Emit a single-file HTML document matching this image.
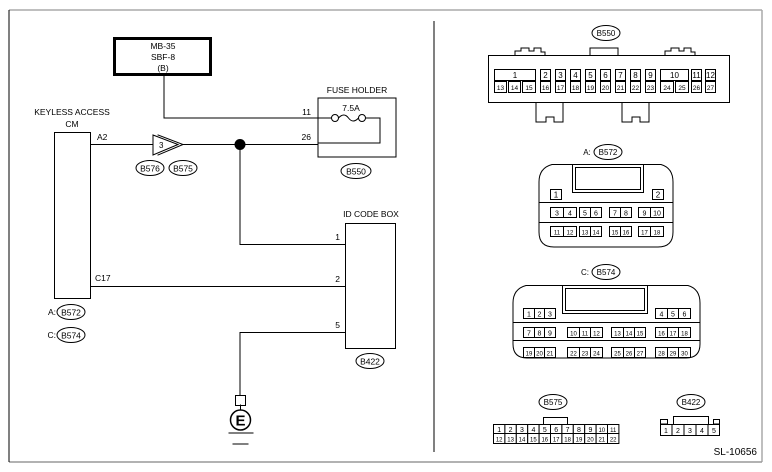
<!DOCTYPE html>
<html><head><meta charset="utf-8"><style>
html,body{margin:0;padding:0;background:#fff;}
svg{display:block;}
text{font-family:"Liberation Sans",sans-serif;fill:#000;}
</style></head><body>
<svg width="772" height="472" viewBox="0 0 772 472" xmlns="http://www.w3.org/2000/svg">
<rect x="0" y="0" width="772" height="472" fill="#fff"/>
<!-- frame -->
<line x1="9" y1="10" x2="762" y2="10" stroke="#aaa" stroke-width="1.5"/>
<line x1="762" y1="10" x2="762" y2="462" stroke="#aaa" stroke-width="1.5"/>
<line x1="9" y1="462" x2="762" y2="462" stroke="#999" stroke-width="1.5"/>
<line x1="9" y1="10" x2="9" y2="462" stroke="#000" stroke-width="1"/>
<line x1="434" y1="21" x2="434" y2="452" stroke="#000" stroke-width="1"/>

<g font-size="8.5" stroke-linecap="square">
<!-- MB-35 box -->
<rect x="114.5" y="38.5" width="96" height="36" fill="none" stroke="#000" stroke-width="3"/>
<text x="163" y="49" text-anchor="middle">MB-35</text>
<text x="163" y="60" text-anchor="middle">SBF-8</text>
<text x="163" y="71" text-anchor="middle">(B)</text>
<polyline points="164,76 164,118 331,118" fill="none" stroke="#000"/>
<!-- Fuse holder -->
<text x="357" y="93" text-anchor="middle">FUSE HOLDER</text>
<rect x="318" y="98" width="78" height="59" fill="none" stroke="#000"/>
<text x="351" y="111" text-anchor="middle">7.5A</text>
<text x="311" y="115" text-anchor="end">11</text>
<text x="311" y="140" text-anchor="end">26</text>
<circle cx="335" cy="118" r="3.5" fill="#fff" stroke="#000"/>
<circle cx="362" cy="118" r="3.5" fill="#fff" stroke="#000"/>
<path d="M338.5,118 Q344,112 348.5,118 T358.5,118" fill="none" stroke="#000"/>
<polyline points="365.5,118 380,118 380,143 318,143" fill="none" stroke="#000"/>
<ellipse cx="356" cy="171" rx="15" ry="7.5" fill="#fff" stroke="#000"/>
<text x="356" y="174.5" text-anchor="middle">B550</text>

<!-- Keyless access CM -->
<text x="72" y="115" text-anchor="middle">KEYLESS ACCESS</text>
<text x="72" y="127" text-anchor="middle">CM</text>
<rect x="54.5" y="132.5" width="36" height="166" fill="none" stroke="#000"/>
<text x="97" y="140">A2</text>
<text x="95" y="281">C17</text>
<ellipse cx="71" cy="312" rx="14" ry="7.5" fill="#fff" stroke="#000"/>
<text x="71" y="315.5" text-anchor="middle">B572</text>
<text x="56" y="315" text-anchor="end">A:</text>
<ellipse cx="71" cy="335" rx="14" ry="7.5" fill="#fff" stroke="#000"/>
<text x="71" y="338.5" text-anchor="middle">B574</text>
<text x="56" y="338" text-anchor="end">C:</text>

<!-- A2 wire with connector -->
<line x1="91" y1="144.5" x2="153" y2="144.5" stroke="#000"/>
<polygon points="153,135 178,144.5 153,155" fill="#fff" stroke="#000"/>
<polyline points="158,135 183,144.5 158,155" fill="none" stroke="#000"/>
<text x="159" y="148" font-size="8">3</text>
<line x1="183" y1="144.5" x2="318" y2="144.5" stroke="#000"/>
<circle cx="240" cy="144.5" r="5.5" fill="#000"/>
<ellipse cx="150" cy="168" rx="14" ry="7.5" fill="#fff" stroke="#000"/>
<text x="150" y="171.5" text-anchor="middle">B576</text>
<ellipse cx="183" cy="168" rx="14" ry="7.5" fill="#fff" stroke="#000"/>
<text x="183" y="171.5" text-anchor="middle">B575</text>

<!-- ID code box -->
<polyline points="240,144 240,244.5 345,244.5" fill="none" stroke="#000"/>
<line x1="91" y1="286.5" x2="345" y2="286.5" stroke="#000"/>
<polyline points="345,332.5 240,332.5 240,395" fill="none" stroke="#000"/>
<text x="371" y="217" text-anchor="middle">ID CODE BOX</text>
<rect x="345.5" y="223.5" width="50" height="125" fill="none" stroke="#000"/>
<text x="340" y="240" text-anchor="end">1</text>
<text x="340" y="282" text-anchor="end">2</text>
<text x="340" y="328" text-anchor="end">5</text>
<ellipse cx="370" cy="361" rx="14" ry="7.5" fill="#fff" stroke="#000"/>
<text x="370" y="364.5" text-anchor="middle">B422</text>

<!-- ground -->
<rect x="235.5" y="395.5" width="10" height="10" fill="#fff" stroke="#000"/>
<line x1="240.5" y1="405" x2="240.5" y2="410" stroke="#000"/>
<circle cx="240.5" cy="420" r="10" fill="#fff" stroke="#000" stroke-width="1.5"/>
<text x="240.5" y="425.5" text-anchor="middle" font-size="15" font-weight="bold">E</text>
<line x1="229" y1="433" x2="253" y2="433" stroke="#000"/>
<line x1="233" y1="444" x2="248" y2="444" stroke="#000"/>
</g>

<!-- RIGHT SIDE -->
<g font-size="8" stroke="#000" fill="none">
<ellipse cx="606" cy="33" rx="14" ry="7.5" fill="#fff"/>
<path d="M515,55 v-4 h6 v-3 h8 v3 h5 v-3 h7 v4 h4 v4"/>
<path d="M590,55 v-7 h28 v7"/>
<path d="M665,55 v-4 h6 v-3 h8 v3 h5 v-3 h7 v4 h4 v4"/>
<rect x="488.5" y="55.5" width="241" height="47" fill="#fff"/>
<path d="M536,102 v20 h10 v-5 h8 v5 h9 v-20"/>
<path d="M622,102 v20 h10 v-5 h8 v5 h9 v-20"/>
<rect x="494.5" y="69.5" width="41" height="11"/>
<rect x="494.5" y="81.5" width="12" height="11"/><rect x="508.5" y="81.5" width="12" height="11"/><rect x="522.5" y="81.5" width="13" height="11"/>
<g>
<rect x="540.5" y="69.5" width="10" height="11"/><rect x="540.5" y="81.5" width="10" height="11"/>
<rect x="555.5" y="69.5" width="10" height="11"/><rect x="555.5" y="81.5" width="10" height="11"/>
<rect x="570.5" y="69.5" width="10" height="11"/><rect x="570.5" y="81.5" width="10" height="11"/>
<rect x="585.5" y="69.5" width="10" height="11"/><rect x="585.5" y="81.5" width="10" height="11"/>
<rect x="600.5" y="69.5" width="10" height="11"/><rect x="600.5" y="81.5" width="10" height="11"/>
<rect x="615.5" y="69.5" width="10" height="11"/><rect x="615.5" y="81.5" width="10" height="11"/>
<rect x="630.5" y="69.5" width="10" height="11"/><rect x="630.5" y="81.5" width="10" height="11"/>
<rect x="645.5" y="69.5" width="10" height="11"/><rect x="645.5" y="81.5" width="10" height="11"/>
<rect x="660.5" y="69.5" width="28" height="11"/><rect x="660.5" y="81.5" width="13" height="11"/><rect x="675.5" y="81.5" width="13" height="11"/>
<rect x="691.5" y="69.5" width="10" height="11"/><rect x="691.5" y="81.5" width="10" height="11"/>
<rect x="705.5" y="69.5" width="10" height="11"/><rect x="705.5" y="81.5" width="10" height="11"/>
</g>

<!-- B572 -->
<ellipse cx="608" cy="152" rx="14" ry="7.5" fill="#fff"/>
<path d="M552,164.5 H661 Q673,168 673,182 V232 Q673,247 658,247 H554 Q539,247 539,232 V182 Q539,168 552,164.5 Z"/>
<rect x="572.5" y="164.5" width="71" height="28"/>
<rect x="575.5" y="167.5" width="65" height="22"/>
<line x1="539" y1="202.5" x2="673" y2="202.5"/>
<line x1="539" y1="222.5" x2="673" y2="222.5"/>
<rect x="550.5" y="189.5" width="11" height="10"/><rect x="652.5" y="189.5" width="11" height="10"/>
<!-- B574 -->
<ellipse cx="606" cy="272" rx="14" ry="7.5" fill="#fff"/>
<path d="M526,285.5 H688 Q700,289 700,303 V344 Q700,358 686,358 H527 Q513,358 513,344 V303 Q513,289 526,285.5 Z"/>
<rect x="562.5" y="285.5" width="85" height="28"/>
<rect x="565.5" y="288.5" width="79" height="22"/>
<line x1="513" y1="322.5" x2="700" y2="322.5"/>
<line x1="513" y1="340.5" x2="700" y2="340.5"/>
</g>

<g font-size="8" text-anchor="middle">
<text x="606" y="36">B550</text>
<text x="515" y="78">1</text>
<text x="545.5" y="78">2</text><text x="560.5" y="78">3</text><text x="575.5" y="78">4</text><text x="590.5" y="78">5</text><text x="605.5" y="78">6</text><text x="620.5" y="78">7</text><text x="635.5" y="78">8</text><text x="650.5" y="78">9</text><text x="674.5" y="78">10</text><text x="696.5" y="78">11</text><text x="710.5" y="78">12</text>
<g font-size="6.5">
<text x="500.5" y="90">13</text><text x="514.5" y="90">14</text><text x="529" y="90">15</text><text x="545.5" y="90">16</text><text x="560.5" y="90">17</text><text x="575.5" y="90">18</text><text x="590.5" y="90">19</text><text x="605.5" y="90">20</text><text x="620.5" y="90">21</text><text x="635.5" y="90">22</text><text x="650.5" y="90">23</text><text x="667" y="90">24</text><text x="682" y="90">25</text><text x="696.5" y="90">26</text><text x="710.5" y="90">27</text>
</g>
<text x="587" y="155">A:</text><text x="608" y="155">B572</text>
<text x="556" y="197.5">1</text><text x="658" y="197.5">2</text>
<text x="585" y="275">C:</text><text x="606" y="275">B574</text>
<text x="553" y="405">B575</text>
<text x="691" y="405">B422</text>
</g>

<g stroke="#000" fill="#fff" font-size="7">
<rect x="550.5" y="207.5" width="13" height="10"/><rect x="563.5" y="207.5" width="13" height="10"/>
<rect x="579.5" y="207.5" width="11" height="10"/><rect x="590.5" y="207.5" width="11" height="10"/>
<rect x="609.5" y="207.5" width="11" height="10"/><rect x="620.5" y="207.5" width="11" height="10"/>
<rect x="638.5" y="207.5" width="12" height="10"/><rect x="650.5" y="207.5" width="13" height="10"/>
<rect x="550.5" y="226.5" width="13" height="10"/><rect x="563.5" y="226.5" width="13" height="10"/>
<rect x="579.5" y="226.5" width="11" height="10"/><rect x="590.5" y="226.5" width="11" height="10"/>
<rect x="609.5" y="226.5" width="11" height="10"/><rect x="620.5" y="226.5" width="11" height="10"/>
<rect x="638.5" y="226.5" width="12" height="10"/><rect x="650.5" y="226.5" width="13" height="10"/>

<rect x="523.5" y="308.5" width="11" height="10"/><rect x="534.5" y="308.5" width="10" height="10"/><rect x="544.5" y="308.5" width="11" height="10"/>
<rect x="655.5" y="308.5" width="12" height="10"/><rect x="667.5" y="308.5" width="11" height="10"/><rect x="678.5" y="308.5" width="12" height="10"/>
<rect x="523.5" y="327.5" width="11" height="10"/><rect x="534.5" y="327.5" width="10" height="10"/><rect x="544.5" y="327.5" width="11" height="10"/>
<rect x="567.5" y="327.5" width="12" height="10"/><rect x="579.5" y="327.5" width="11" height="10"/><rect x="590.5" y="327.5" width="12" height="10"/>
<rect x="611.5" y="327.5" width="12" height="10"/><rect x="623.5" y="327.5" width="11" height="10"/><rect x="634.5" y="327.5" width="11" height="10"/>
<rect x="655.5" y="327.5" width="12" height="10"/><rect x="667.5" y="327.5" width="11" height="10"/><rect x="678.5" y="327.5" width="12" height="10"/>
<rect x="523.5" y="347.5" width="11" height="10"/><rect x="534.5" y="347.5" width="10" height="10"/><rect x="544.5" y="347.5" width="11" height="10"/>
<rect x="567.5" y="347.5" width="12" height="10"/><rect x="579.5" y="347.5" width="11" height="10"/><rect x="590.5" y="347.5" width="12" height="10"/>
<rect x="611.5" y="347.5" width="12" height="10"/><rect x="623.5" y="347.5" width="11" height="10"/><rect x="634.5" y="347.5" width="11" height="10"/>
<rect x="655.5" y="347.5" width="12" height="10"/><rect x="667.5" y="347.5" width="11" height="10"/><rect x="678.5" y="347.5" width="12" height="10"/>

<ellipse cx="553" cy="402" rx="14" ry="7.5" fill="none"/>
<path d="M543.5,424 V417.5 H567.5 V424" fill="none"/>
<ellipse cx="691" cy="402" rx="14" ry="7.5" fill="none"/>
<rect x="660.5" y="419.5" width="7" height="4.5"/>
<rect x="713.5" y="419.5" width="6" height="4.5"/>
<path d="M673.5,424 V416.5 H708.5 V424" fill="none"/>
<rect x="660.5" y="424.5" width="11.5" height="11"/><rect x="672" y="424.5" width="12" height="11"/><rect x="684" y="424.5" width="12" height="11"/><rect x="696" y="424.5" width="12" height="11"/><rect x="708" y="424.5" width="11.5" height="11"/>

<rect x="493.5" y="424.5" width="11.4" height="9"/><rect x="504.9" y="424.5" width="11.4" height="9"/><rect x="516.3" y="424.5" width="11.4" height="9"/><rect x="527.7" y="424.5" width="11.4" height="9"/><rect x="539.1" y="424.5" width="11.4" height="9"/><rect x="550.5" y="424.5" width="11.4" height="9"/><rect x="561.9" y="424.5" width="11.4" height="9"/><rect x="573.3" y="424.5" width="11.4" height="9"/><rect x="584.7" y="424.5" width="11.4" height="9"/><rect x="596.1" y="424.5" width="11.4" height="9"/><rect x="607.5" y="424.5" width="11.4" height="9"/>
<rect x="493.5" y="433.5" width="11.4" height="10"/><rect x="504.9" y="433.5" width="11.4" height="10"/><rect x="516.3" y="433.5" width="11.4" height="10"/><rect x="527.7" y="433.5" width="11.4" height="10"/><rect x="539.1" y="433.5" width="11.4" height="10"/><rect x="550.5" y="433.5" width="11.4" height="10"/><rect x="561.9" y="433.5" width="11.4" height="10"/><rect x="573.3" y="433.5" width="11.4" height="10"/><rect x="584.7" y="433.5" width="11.4" height="10"/><rect x="596.1" y="433.5" width="11.4" height="10"/><rect x="607.5" y="433.5" width="11.4" height="10"/>
</g>
<g font-size="7" text-anchor="middle">
<text x="557" y="215.5">3</text><text x="570" y="215.5">4</text><text x="585" y="215.5">5</text><text x="596" y="215.5">6</text><text x="615" y="215.5">7</text><text x="626" y="215.5">8</text><text x="644.5" y="215.5">9</text><text x="657" y="215.5">10</text>
<g font-size="6"><text x="557" y="234.5">11</text><text x="570" y="234.5">12</text><text x="585" y="234.5">13</text><text x="596" y="234.5">14</text><text x="615" y="234.5">15</text><text x="626" y="234.5">16</text><text x="644.5" y="234.5">17</text><text x="657" y="234.5">18</text></g>
<text x="529" y="316.5">1</text><text x="539.5" y="316.5">2</text><text x="550" y="316.5">3</text><text x="661.5" y="316.5">4</text><text x="673" y="316.5">5</text><text x="684.5" y="316.5">6</text>
<text x="529" y="335.5">7</text><text x="539.5" y="335.5">8</text><text x="550" y="335.5">9</text>
<g font-size="6">
<text x="573.5" y="335.5">10</text><text x="585" y="335.5">11</text><text x="596.5" y="335.5">12</text><text x="617.5" y="335.5">13</text><text x="629" y="335.5">14</text><text x="640" y="335.5">15</text><text x="661.5" y="335.5">16</text><text x="673" y="335.5">17</text><text x="684.5" y="335.5">18</text>
<text x="529" y="355.5">19</text><text x="539.5" y="355.5">20</text><text x="550" y="355.5">21</text><text x="573.5" y="355.5">22</text><text x="585" y="355.5">23</text><text x="596.5" y="355.5">24</text><text x="617.5" y="355.5">25</text><text x="629" y="355.5">26</text><text x="640" y="355.5">27</text><text x="661.5" y="355.5">28</text><text x="673" y="355.5">29</text><text x="684.5" y="355.5">30</text>
</g>
<text x="499.2" y="432">1</text><text x="510.6" y="432">2</text><text x="522" y="432">3</text><text x="533.4" y="432">4</text><text x="544.8" y="432">5</text><text x="556.2" y="432">6</text><text x="567.6" y="432">7</text><text x="579" y="432">8</text><text x="590.4" y="432">9</text><text x="601.8" y="432" font-size="6">10</text><text x="613.2" y="432" font-size="6">11</text>
<g font-size="6"><text x="499.2" y="441.5">12</text><text x="510.6" y="441.5">13</text><text x="522" y="441.5">14</text><text x="533.4" y="441.5">15</text><text x="544.8" y="441.5">16</text><text x="556.2" y="441.5">17</text><text x="567.6" y="441.5">18</text><text x="579" y="441.5">19</text><text x="590.4" y="441.5">20</text><text x="601.8" y="441.5">21</text><text x="613.2" y="441.5">22</text></g>
<text x="666" y="433">1</text><text x="678" y="433">2</text><text x="690" y="433">3</text><text x="702" y="433">4</text><text x="714" y="433">5</text>
</g>
<text x="757" y="455" font-size="10" text-anchor="end">SL-10656</text>
</svg>
</body></html>
